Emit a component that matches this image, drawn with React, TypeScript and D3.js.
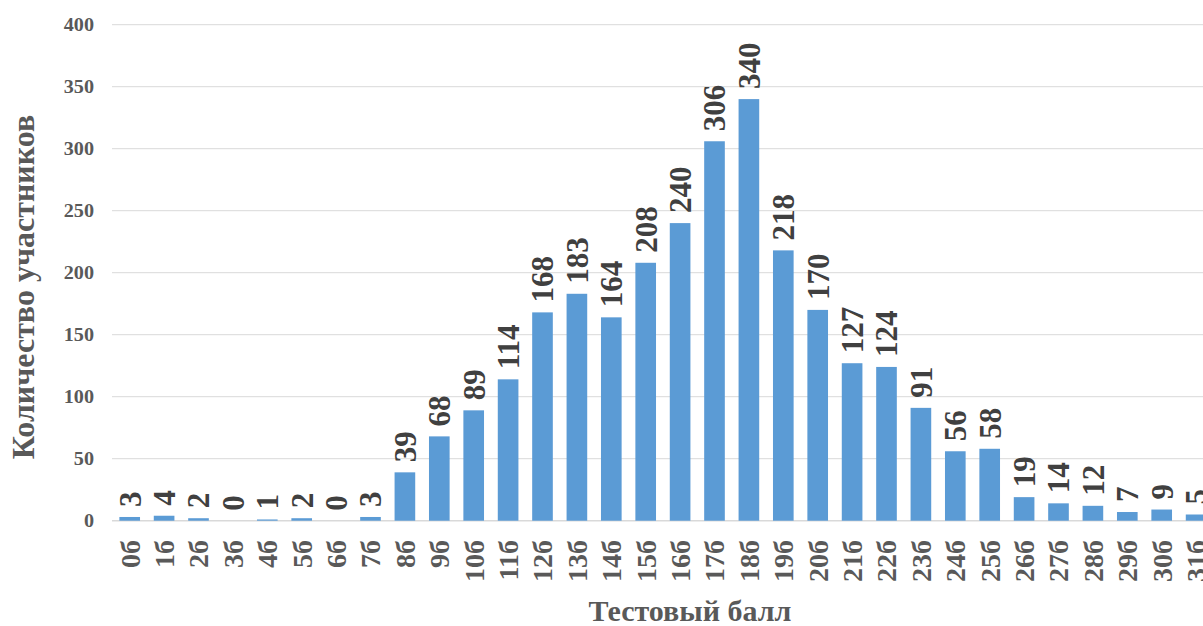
import React from "react";
import * as d3 from "d3";

const categories: string[] = [
  "0б", "1б", "2б", "3б", "4б", "5б", "6б", "7б", "8б", "9б",
  "10б", "11б", "12б", "13б", "14б", "15б", "16б", "17б", "18б", "19б",
  "20б", "21б", "22б", "23б", "24б", "25б", "26б", "27б", "28б", "29б",
  "30б", "31б",
];
const values: number[] = [
  3, 4, 2, 0, 1, 2, 0, 3, 39, 68, 89, 114, 168, 183, 164, 208, 240, 306, 340,
  218, 170, 127, 124, 91, 56, 58, 19, 14, 12, 7, 9, 5,
];
const yTicks: number[] = [0, 50, 100, 150, 200, 250, 300, 350, 400];

const W = 1203;
const H = 626;
const FONT = "'Liberation Serif', 'Times New Roman', serif";

export default function App() {
  const x = d3
    .scaleBand<string>()
    .domain(categories)
    .range([112.5, 112.5 + 32 * 34.4])
    .paddingInner(0.4)
    .paddingOuter(0.2);
  const y = d3.scaleLinear().domain([0, 400]).range([520.7, 24.7]);

  return (
    <svg
      width={W}
      height={H}
      style={{ position: "absolute", left: 0, top: 0, overflow: "hidden" }}
      fontFamily={FONT}
    >
      <rect width={W} height={H} fill="#ffffff" />
      {yTicks.map((t) => (
        <g key={t}>
          <line
            x1={112}
            x2={W}
            y1={y(t)}
            y2={y(t)}
            stroke="#d9d9d9"
            strokeWidth={t === 0 ? 1.5 : 1}
          />
          <text
            x={94}
            y={y(t)}
            dy="0.35em"
            textAnchor="end"
            fontSize={18}
            fontWeight="bold"
            fill="#595959"
            transform={`translate(94,0) scale(1.12,1) translate(-94,0)`}
          >
            {t}
          </text>
        </g>
      ))}
      {categories.map((c, i) => {
        const cx = (x(c) as number) + x.bandwidth() / 2;
        const v = values[i];
        return (
          <g key={c}>
            <rect
              x={x(c)}
              y={y(v)}
              width={x.bandwidth()}
              height={y(0) - y(v)}
              fill="#5b9bd5"
            />
            <text
              transform={`translate(${cx},${y(v) - 10}) rotate(-90)`}
              dy="0.35em"
              textAnchor="start"
              fontSize={31}
              fontWeight="bold"
              fill="#404040"
            >
              {v}
            </text>
            <text
              transform={`translate(${cx},540) rotate(-90)`}
              dy="0.35em"
              textAnchor="end"
              fontSize={28}
              fontWeight="bold"
              fill="#595959"
            >
              {c}
            </text>
          </g>
        );
      })}
      <text
        transform={`translate(23,287) rotate(-90)`}
        dy="0.35em"
        textAnchor="middle"
        fontSize={32}
        fontWeight="bold"
        fill="#595959"
      >
        Количество участников
      </text>
      <text
        x={690}
        y={621}
        textAnchor="middle"
        fontSize={30}
        fontWeight="bold"
        fill="#595959"
      >
        Тестовый балл
      </text>
    </svg>
  );
}
